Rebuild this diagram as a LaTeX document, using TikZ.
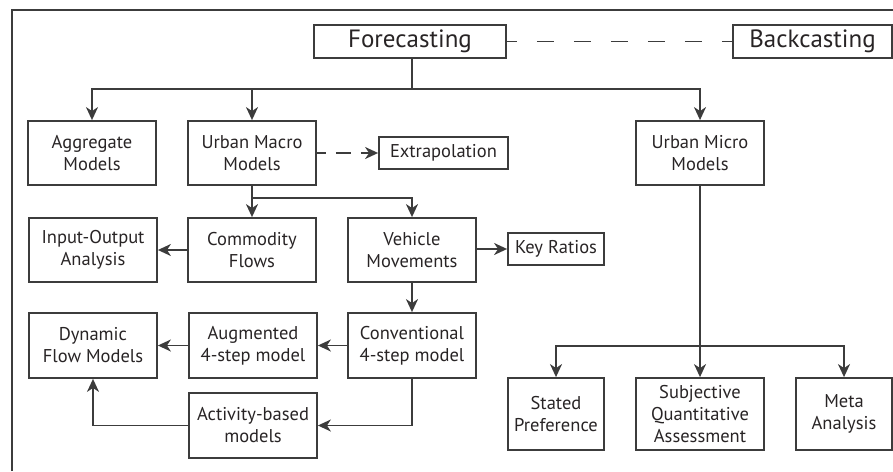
\documentclass[tikz,border=0pt]{standalone}
\usepackage{fontspec}
\setmainfont{PT Sans}
\usepackage{tikz}
\usetikzlibrary{arrows.meta}
\definecolor{lncol}{RGB}{60,60,60}
\definecolor{txtcol}{RGB}{40,36,37}

\begin{document}
\begin{tikzpicture}[x=1pt, y=-1pt,
        box/.style={draw=lncol, line width=1.8pt, align=center, text=txtcol,
            inner sep=1pt, font=\fontsize{18.5}{22}\selectfont},
        bigbox/.style={box, minimum width=128pt, minimum height=64pt},
        smallbox/.style={box, minimum width=96pt, minimum height=72pt},
        link/.style={draw=lncol, line width=1.8pt},
        arr/.style={link, -{Stealth[length=13pt, width=12pt, inset=4pt]}}]
        \useasboundingbox (0,0) rectangle (893,471);

        % outer frame (cut at right and bottom)
        \draw[lncol, line width=1.8pt] (12,471) -- (12,10) -- (893,10);

        % top row
        \node[box, minimum width=192pt, minimum height=33pt, font=\fontsize{25}{29}\selectfont] (fore) at (410,41.5) {Forecasting};
        \node[box, minimum width=159pt, minimum height=33pt, font=\fontsize{25}{29}\selectfont] (back) at (812.5,41.5) {Backcasting};
        \draw[link, dash pattern=on 17pt off 20pt, dash phase=7pt] (fore.east) -- (back.west);

        % model families
        \node[bigbox] (agg) at (92,153) {Aggregate\\Models};
        \node[bigbox] (macro) at (252,153) {Urban Macro\\Models};
        \node[box, minimum width=129pt, minimum height=32pt] (extra) at (443.5,153) {Extrapolation};
        \node[bigbox] (micro) at (700,153) {Urban Micro\\Models};

        % macro branch
        \node[bigbox] (io) at (93,250) {Input-Output\\Analysis};
        \node[bigbox] (comm) at (252,250) {Commodity\\Flows};
        \node[bigbox] (veh) at (412,250) {Vehicle\\Movements};
        \node[box, minimum width=96pt, minimum height=32pt] (key) at (556,249) {Key Ratios};
        \node[bigbox, minimum height=65pt] (dyn) at (93,345.5) {Dynamic\\Flow Models};
        \node[bigbox, minimum height=65pt] (aug) at (253,345.5) {Augmented\\4-step model};
        \node[bigbox, minimum height=65pt] (conv) at (412,345.5) {Conventional\\4-step model};
        \node[bigbox, minimum height=65pt] (act) at (253,425.5) {Activity-based\\models};

        % micro branch
        \node[smallbox] (stated) at (556,414) {Stated\\Preference};
        \node[smallbox, minimum width=128pt] (subj) at (700,414) {Subjective\\Quantitative\\Assessment};
        \node[smallbox] (meta) at (844,414) {Meta\\Analysis};

        % split points
        \coordinate (fsplit) at (412,89);
        \coordinate (msplit) at (252,198);
        \coordinate (usplit) at (700,346);

        % connectors
        \draw[link] (fore.south -| fsplit) -- (fsplit);
        \draw[arr] (fsplit) -| (agg.north);
        \draw[arr] (fsplit) -| (macro.north);
        \draw[arr] (fsplit) -| (micro.north);
        \draw[arr, dash pattern=on 15pt off 10pt, dash phase=6pt] (macro.east) -- (extra.west);

        \draw[link] (macro.south) -- (msplit);
        \draw[arr] (msplit) -- (comm.north);
        \draw[arr] (msplit) -| (veh.north);
        \draw[arr] (comm.west) -- (io.east);
        \draw[arr] (veh.east |- key.west) -- (key.west);
        \draw[arr] (veh.south) -- (conv.north);
        \draw[arr] (conv.west) -- (aug.east);
        \draw[arr] (aug.west) -- (dyn.east);
        \draw[arr] (conv.south) |- (act.east);
        \draw[arr] (act.west) -| (dyn.south);

        \draw[arr] (micro.south) -- (subj.north);
        \draw[arr] (usplit) -| (stated.north);
        \draw[arr] (usplit) -| (meta.north);
\end{tikzpicture}
\end{document}
